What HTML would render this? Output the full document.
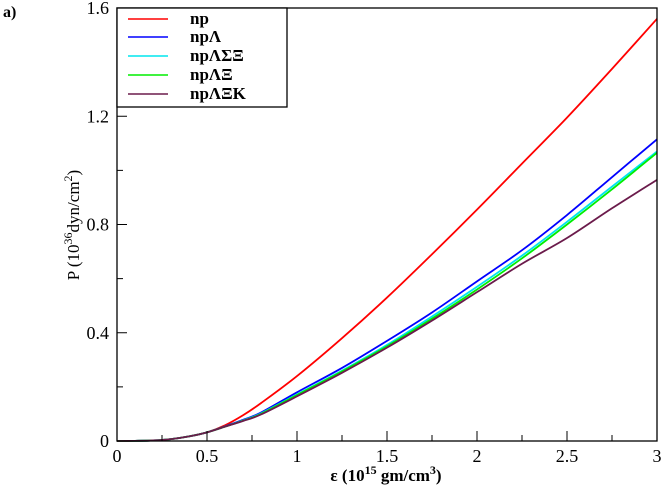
<!DOCTYPE html>
<html><head><meta charset="utf-8"><style>
body{margin:0;background:#fff}
svg{display:block;font-family:"Liberation Serif",serif}
</style></head><body>
<svg id="chart" width="664" height="485"></svg>
<script>
const xs=[0,0.1,0.2,0.3,0.4,0.5,0.6,0.7,0.8,1.0,1.25,1.5,1.75,2.0,2.25,2.5,2.75,3.0];
const npVals=[0,0.0005,0.002,0.007,0.017,0.032,0.058,0.095,0.14,0.24,0.38,0.53,0.69,0.855,1.025,1.195,1.375,1.56];
const npLVals=[0,0.0005,0.002,0.007,0.017,0.032,0.054,0.078,0.105,0.18,0.27,0.37,0.475,0.59,0.705,0.835,0.975,1.115];
const npLSXVals=[0,0.0005,0.002,0.007,0.017,0.032,0.053,0.076,0.102,0.172,0.26,0.355,0.46,0.57,0.685,0.81,0.94,1.07];
const npLXVals=[0,0.0005,0.002,0.007,0.017,0.032,0.053,0.075,0.1,0.17,0.257,0.35,0.452,0.56,0.675,0.80,0.93,1.065];
const npLXKVals=[0,0.0005,0.002,0.007,0.017,0.032,0.053,0.074,0.098,0.165,0.252,0.345,0.445,0.55,0.655,0.75,0.86,0.965];
const seriesNames=["np","npΛ","npΛΣΞ","npΛΞ","npΛΞK"];
const seriesColors=["#ff0000","#0000ff","#00e5ee","#00ee00","#6b1b4b"];
const seriesData=[npVals,npLVals,npLSXVals,npLXVals,npLXKVals];
const xTicks=[0,0.5,1,1.5,2,2.5,3];
const xTickLabels=["0","0.5","1","1.5","2","2.5","3"];
const yTicks=[0,0.4,0.8,1.2,1.6];
const yTickLabels=["0","0.4","0.8","1.2","1.6"];

const L=117,R=657,T=8,B=441;
const X=v=>L+(v-0)/3*(R-L);
const Y=v=>B-(v/1.6)*(B-T);
const svg=document.getElementById('chart');
const NS='http://www.w3.org/2000/svg';
function mk(tag,attrs,parent){const e=document.createElementNS(NS,tag);for(const k in attrs)e.setAttribute(k,attrs[k]);(parent||svg).appendChild(e);return e;}
function smooth(pts){
  let d='M'+pts[0][0]+','+pts[0][1];
  for(let i=0;i<pts.length-1;i++){
    const p0=pts[Math.max(i-1,0)],p1=pts[i],p2=pts[i+1],p3=pts[Math.min(i+2,pts.length-1)];
    const c1=[p1[0]+(p2[0]-p0[0])/6,p1[1]+(p2[1]-p0[1])/6];
    const c2=[p2[0]-(p3[0]-p1[0])/6,p2[1]-(p3[1]-p1[1])/6];
    d+=' C'+c1[0]+','+c1[1]+' '+c2[0]+','+c2[1]+' '+p2[0]+','+p2[1];
  }
  return d;
}

seriesData.forEach((d,i)=>{
  const p=mk('path',{d:smooth(xs.map((x,j)=>[X(x),Y(d[j])])),fill:'none',stroke:seriesColors[i],'stroke-width':1.8});
  
  
});

const fr=mk('rect',{x:L,y:T,width:R-L,height:B-T,fill:'none',stroke:'#000','stroke-width':1.3});



for(let v=0;v<=3.001;v+=0.25){
  const major=Math.abs(v*2-Math.round(v*2))<1e-6;
  mk('line',{x1:X(v),x2:X(v),y1:B,y2:B-(major?10:6),stroke:'#000','stroke-width':1});
}
xTicks.forEach((v,i)=>{
  const t=mk('text',{x:X(v),y:B+21,'text-anchor':'middle','font-size':18});
  t.textContent=xTickLabels[i];
  
  
});
for(let v=0;v<=1.601;v+=0.2){
  const major=Math.abs(v/0.4-Math.round(v/0.4))<1e-6;
  mk('line',{x1:L,x2:L+(major?10:6),y1:Y(v),y2:Y(v),stroke:'#000','stroke-width':1});
}
yTicks.forEach((v,i)=>{
  const t=mk('text',{x:L-8,y:Y(v)+6,'text-anchor':'end','font-size':18});
  t.textContent=yTickLabels[i];
  
  
});
</script>
<svg width="664" height="485" style="position:absolute;left:0;top:0">
  <text x="3" y="17" font-size="16" font-weight="bold" font-family="Liberation Serif,serif">a)</text>
  <text x="386" y="481" text-anchor="middle" font-size="17" font-weight="bold" font-family="Liberation Serif,serif">ε (10<tspan dy="-7" font-size="12">15</tspan><tspan dy="7"> gm/cm</tspan><tspan dy="-7" font-size="12">3</tspan><tspan dy="7">)</tspan></text>
  <text transform="translate(79,225) rotate(-90)" text-anchor="middle" font-size="17" font-family="Liberation Serif,serif">P (10<tspan dy="-7" font-size="12">36</tspan><tspan dy="7">dyn/cm</tspan><tspan dy="-7" font-size="12">2</tspan><tspan dy="7">)</tspan></text>
  <g font-family="Liberation Serif,serif" font-size="17" font-weight="bold">
    <rect x="117" y="8" width="170" height="99" fill="#fff" stroke="#000" stroke-width="1.3"/>
    <line x1="128" x2="168" y1="19" y2="19" stroke="#ff0000" stroke-width="1.6"/><text x="190" y="24">np</text>
    <line x1="128" x2="168" y1="37" y2="37" stroke="#0000ff" stroke-width="1.6"/><text x="190" y="42">npΛ</text>
    <line x1="128" x2="168" y1="56" y2="56" stroke="#00e5ee" stroke-width="1.6"/><text x="190" y="61">npΛΣΞ</text>
    <line x1="128" x2="168" y1="75" y2="75" stroke="#00ee00" stroke-width="1.6"/><text x="190" y="80">npΛΞ</text>
    <line x1="128" x2="168" y1="94" y2="94" stroke="#6b1b4b" stroke-width="1.6"/><text x="190" y="99">npΛΞK</text>
  </g>
</svg>
</body></html>
